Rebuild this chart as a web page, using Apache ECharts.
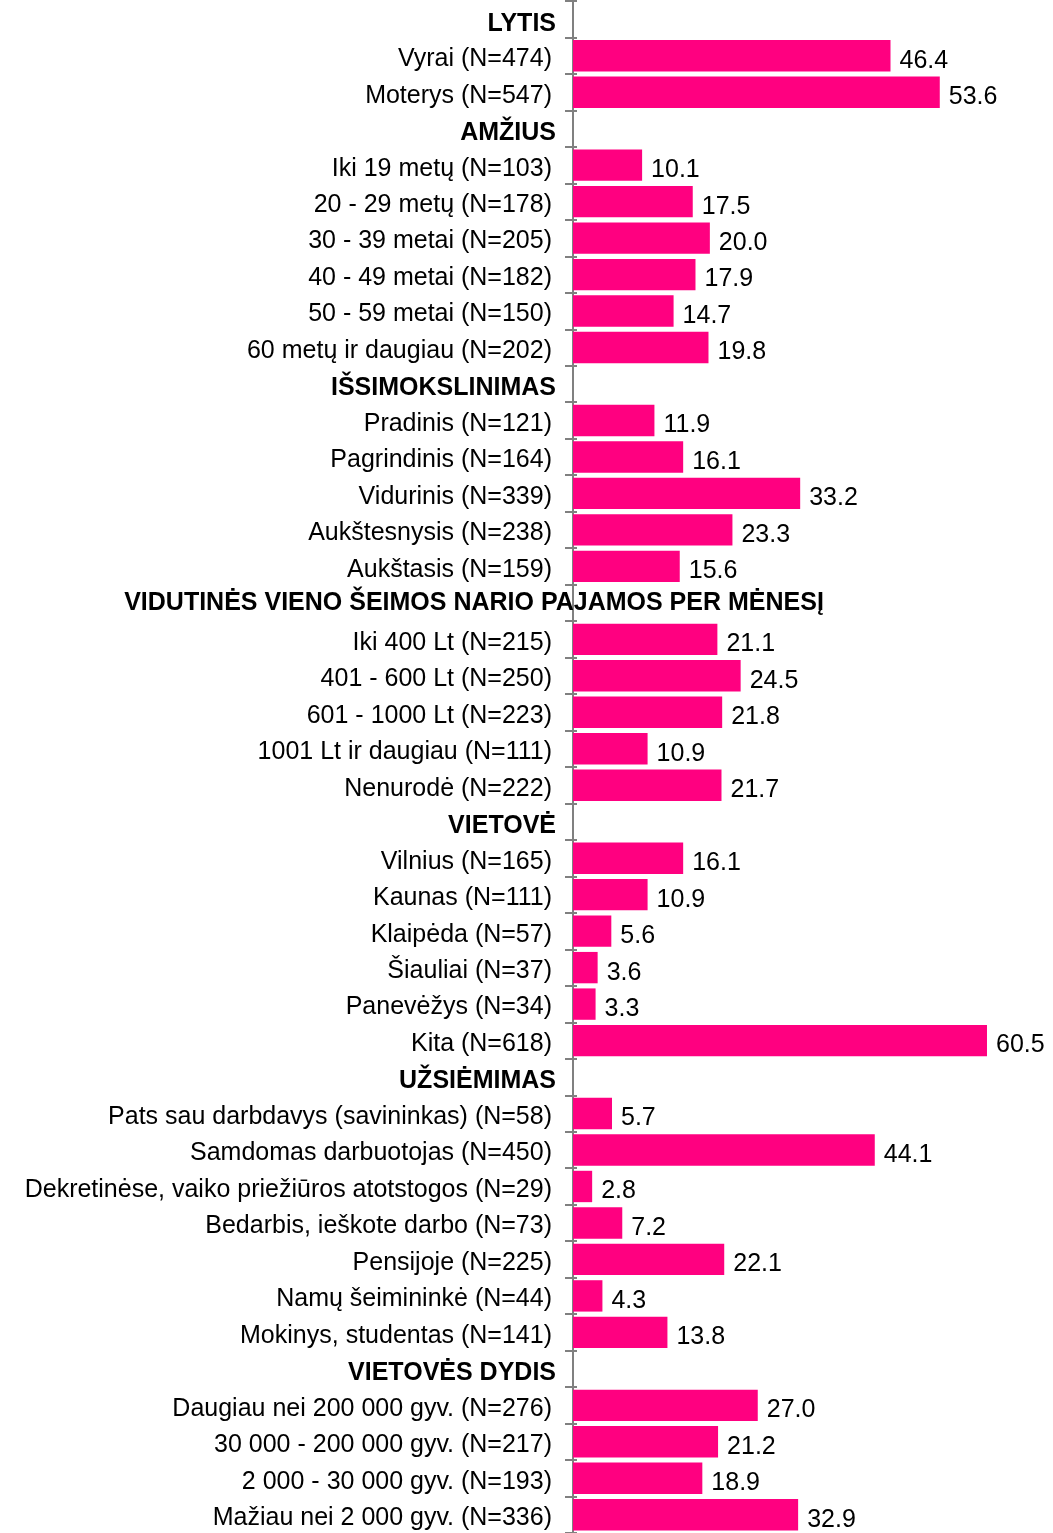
<!DOCTYPE html>
<html>
<head>
<meta charset="utf-8">
<script src="https://cdn.jsdelivr.net/npm/echarts@6/dist/echarts.min.js"></script>
<style>
  html, body { margin: 0; padding: 0; background: #fff; }
  #chart { width: 1053px; height: 1533px; }
</style>
</head>
<body>
<div id="chart"></div>
<script>
// group headers, in display order
var groupNames = ['LYTIS', 'AMŽIUS', 'IŠSIMOKSLINIMAS', 'VIDUTINĖS VIENO ŠEIMOS NARIO PAJAMOS PER MĖNESĮ',
  'VIETOVĖ', 'UŽSIĖMIMAS', 'VIETOVĖS DYDIS']

var lytisLabels = ['Vyrai (N=474)', 'Moterys (N=547)']
var lytisValues = [46.4, 53.6]

var amziusLabels = ['Iki 19 metų (N=103)', '20 - 29 metų (N=178)', '30 - 39 metai (N=205)',
  '40 - 49 metai (N=182)', '50 - 59 metai (N=150)', '60 metų ir daugiau (N=202)']
var amziusValues = [10.1, 17.5, 20.0, 17.9, 14.7, 19.8]

var issLabels = ['Pradinis (N=121)', 'Pagrindinis (N=164)', 'Vidurinis (N=339)',
  'Aukštesnysis (N=238)', 'Aukštasis (N=159)']
var issValues = [11.9, 16.1, 33.2, 23.3, 15.6]

var pajamosLabels = ['Iki 400 Lt (N=215)', '401 - 600 Lt (N=250)', '601 - 1000 Lt (N=223)',
  '1001 Lt ir daugiau (N=111)', 'Nenurodė (N=222)']
var pajamosValues = [21.1, 24.5, 21.8, 10.9, 21.7]

var vietoveLabels = ['Vilnius (N=165)', 'Kaunas (N=111)', 'Klaipėda (N=57)',
  'Šiauliai (N=37)', 'Panevėžys (N=34)', 'Kita (N=618)']
var vietoveValues = [16.1, 10.9, 5.6, 3.6, 3.3, 60.5]

var uzsLabels = ['Pats sau darbdavys (savininkas) (N=58)', 'Samdomas darbuotojas (N=450)',
  'Dekretinėse, vaiko priežiūros atotstogos (N=29)', 'Bedarbis, ieškote darbo (N=73)',
  'Pensijoje (N=225)', 'Namų šeimininkė (N=44)', 'Mokinys, studentas (N=141)']
var uzsValues = [5.7, 44.1, 2.8, 7.2, 22.1, 4.3, 13.8]

var dydisLabels = ['Daugiau nei 200 000 gyv. (N=276)', '30 000 - 200 000 gyv. (N=217)',
  '2 000 - 30 000 gyv. (N=193)', 'Mažiau nei 2 000 gyv. (N=336)']
var dydisValues = [27.0, 21.2, 18.9, 32.9]

var groupLabels = [lytisLabels, amziusLabels, issLabels, pajamosLabels, vietoveLabels, uzsLabels, dydisLabels]
var groupValues = [lytisValues, amziusValues, issValues, pajamosValues, vietoveValues, uzsValues, dydisValues]

// flatten: header row (no bar) followed by its items
var categories = []
var values = []
var isHeader = {}
groupNames.forEach(function (g, i) {
  categories.push(g)
  values.push(null)
  isHeader[g] = true
  groupLabels[i].forEach(function (l, j) {
    categories.push(l)
    values.push(groupValues[i][j])
  })
})

var FONT = '"Liberation Sans", Arial, sans-serif'
var chart = echarts.init(document.getElementById('chart'))

var option = {
  animation: false,
  textStyle: { fontFamily: FONT },
  grid: { left: 573, right: 1, top: 1, height: 1536, containLabel: false },
  xAxis: {
    type: 'value',
    min: 0,
    max: 70,
    show: false
  },
  yAxis: [{
    type: 'category',
    data: categories,
    inverse: true,
    offset: 2,
    axisLine: { show: true, lineStyle: { color: '#808080', width: 2 } },
    axisTick: { show: true, length: 8, lineStyle: { color: '#808080', width: 2 } },
    splitLine: { show: false },
    axisLabel: {
      interval: 0,
      margin: 19,
      color: '#000',
      fontSize: 25,
      fontFamily: FONT,
      formatter: function (v) {
        if (isHeader[v]) {
          return v.length > 30 ? '' : '{h|' + v + '}'
        }
        return '{n|' + v + '}'
      },
      rich: {
        n: { fontSize: 25, color: '#000', fontFamily: FONT, padding: [7, 0, 0, 0] },
        h: { fontWeight: 'bold', fontSize: 25, color: '#000', fontFamily: FONT, padding: [9, -4, 0, 0] }
      }
    }
  }, {
    // second axis on the same spot: inner half of the ticks and the wide header
    type: 'category',
    data: categories,
    inverse: true,
    position: 'left',
    offset: 2,
    axisLine: { show: false },
    axisTick: { show: true, inside: true, length: 6, lineStyle: { color: '#808080', width: 2 } },
    axisLabel: {
      interval: 0,
      margin: 97,
      align: 'center',
      color: '#000',
      fontSize: 25,
      fontWeight: 'bold',
      fontFamily: FONT,
      padding: [10, 0, 0, 0],
      formatter: function (v) {
        return (isHeader[v] && v.length > 30) ? v : ''
      }
    }
  }],
  series: [{
    type: 'bar',
    data: values,
    barCategoryGap: '14%',
    itemStyle: { color: '#ff0080' },
    label: {
      show: true,
      position: 'right',
      distance: 9,
      offset: [0, 5],
      color: '#000',
      fontSize: 25,
      fontFamily: FONT,
      formatter: function (p) {
        return p.value == null ? '' : p.value.toFixed(1)
      }
    }
  }]
}

chart.setOption(option)
</script>
</body>
</html>
